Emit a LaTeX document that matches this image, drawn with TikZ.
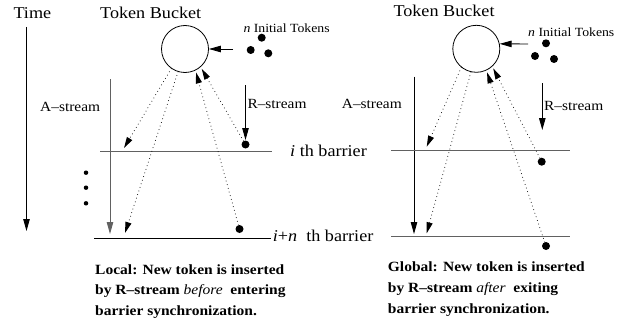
\documentclass[tikz,border=0pt]{standalone}
\usepackage{fontspec}
\setmainfont{Liberation Serif}
\usepackage{graphicx}
\usetikzlibrary{arrows.meta}
\newcommand{\sx}[1]{\scalebox{1.1}[1]{#1}}
\begin{document}
\begin{tikzpicture}[x=1pt,y=-1pt,
  txt/.style={inner sep=0pt, anchor=base west},
  big/.style={txt, font=\fontsize{16.5}{18}\selectfont},
  mid/.style={txt, font=\fontsize{14}{16}\selectfont},
  sml/.style={txt, font=\fontsize{12.5}{14}\selectfont},
  capt/.style={inner sep=0pt, anchor=north west, align=left, font=\fontsize{14.1}{20.6}\selectfont\bfseries},
  bucket/.style={circle, draw, line width=0.8pt, minimum size=47pt, inner sep=0pt},
  tok/.style={circle, fill, inner sep=0pt, minimum size=8pt},
  pt/.style={circle, fill, inner sep=0pt, minimum size=4.5pt},
  sarrow/.style={line width=0.9pt, -{Triangle[length=12pt,width=6.5pt]}},
  darrow/.style={line width=1pt, line cap=round, dash pattern=on 0pt off 3.8pt, -{Triangle[length=11pt,width=6pt]}},
  barrier/.style={line width=0.9pt},
  grayline/.style={draw=black!62}
]
\useasboundingbox (0,0) rectangle (623,321);

% ---------------- Left panel ----------------
\node[big] (time) at (13.3,19) {\sx{Time}};
\node[big] (tbL) at (100,19) {\sx{Token Bucket}};
\node[sml] (itL) at (243.3,32.5) {\sx{\textit{n} Initial Tokens}};
\node[mid] (asL) at (40,111.7) {\sx{A--stream}};
\node[mid] (rsL) at (247.3,108.3) {\sx{R--stream}};
\node[big] (ibar) at (290,156.7) {\sx{\textit{i} th barrier}};
\node[big] (inbar) at (272.7,241.7) {\sx{\textit{i}+\textit{n}\ \ th barrier}};

\coordinate (t0) at (26.5,27);
\coordinate (t1) at (26.5,231);
\draw[sarrow] (t0) -- (t1);

\node[bucket] (bL) at (185,49) {};
\node[tok] (tL1) at (250.7,50) {};
\node[tok] (tL2) at (261.7,37.7) {};
\node[tok] (tL3) at (268.3,53.3) {};
\coordinate (inL) at (233,49);
\draw[sarrow] (inL) -- (bL);

\coordinate (aL0) at (110,79.3);
\coordinate (aL1) at (110,234);
\draw[sarrow, grayline] (aL0) -- (aL1);

\coordinate (b1L0) at (100,151);
\coordinate (b1L1) at (272,151);
\draw[barrier, grayline] (b1L0) -- (b1L1);
\coordinate (b2L0) at (94,238.3);
\coordinate (b2L1) at (271,238.3);
\draw[barrier] (b2L0) -- (b2L1);

\coordinate (rL0) at (245.5,85);
\coordinate (rL1) at (245.5,140);
\draw[sarrow] (rL0) -- (rL1);

\node[tok] (dL1) at (245.5,144.5) {};
\node[tok] (dL2) at (239.5,229) {};

\node[pt] (e1) at (86,172.7) {};
\node[pt] (e2) at (86,187.7) {};
\node[pt] (e3) at (86,203.3) {};

\coordinate (aL2) at (124,148);
\coordinate (aL3) at (125,233);
\draw[darrow] (bL.-125) -- (aL2);
\draw[darrow] (bL.-107) -- (aL3);
\draw[darrow, shorten >=2pt] (dL2) -- (bL.-64);
\draw[darrow, shorten >=2pt] (dL1) -- (bL.-49);

\node[capt] (capL) at (95,264.3) {\sx{Local: New token is inserted}\\
\sx{by R--stream \mdseries\itshape before\upshape\bfseries\ \ entering}\\
\sx{barrier synchronization.}};

% ---------------- Right panel ----------------
\node[big] (tbR) at (393.3,17) {\sx{Token Bucket}};
\node[sml] (itR) at (528,37) {\sx{\textit{n} Initial Tokens}};
\node[mid] (asR) at (341.7,108.3) {\sx{A--stream}};
\node[mid] (rsR) at (544,110) {\sx{R--stream}};

\node[bucket] (bR) at (476.3,48.8) {};
\node[tok] (tR1) at (535,56) {};
\node[tok] (tR2) at (546,43.3) {};
\node[tok] (tR3) at (554,59) {};
\coordinate (inR) at (528,44);
\draw[sarrow] (inR) -- (bR.12);

\coordinate (aR0) at (414,76.7);
\coordinate (aR1) at (414,234);
\draw[sarrow] (aR0) -- (aR1);

\coordinate (b1R0) at (391,150.7);
\coordinate (b1R1) at (570,150.7);
\draw[barrier, grayline] (b1R0) -- (b1R1);
\coordinate (b2R0) at (391,236.7);
\coordinate (b2R1) at (570,236.7);
\draw[barrier, grayline] (b2R0) -- (b2R1);

\coordinate (rR0) at (542.3,83);
\coordinate (rR1) at (542.3,130);
\draw[sarrow] (rR0) -- (rR1);

\node[tok] (dR1) at (541.7,161.7) {};
\node[tok] (dR2) at (546,246) {};

\coordinate (aR2) at (426.7,146.7);
\coordinate (aR3) at (426.7,233.3);
\draw[darrow] (bR.-129) -- (aR2);
\draw[darrow] (bR.-103.5) -- (aR3);
\draw[darrow, shorten >=2pt] (dR2) -- (bR.-65);
\draw[darrow, shorten >=2pt] (dR1) -- (bR.-48);

\node[capt] (capR) at (387.7,262) {\sx{Global: New token is inserted}\\
\sx{by R--stream \mdseries\itshape after\upshape\bfseries\ \ exiting}\\
\sx{barrier synchronization.}};
\end{tikzpicture}
\end{document}
